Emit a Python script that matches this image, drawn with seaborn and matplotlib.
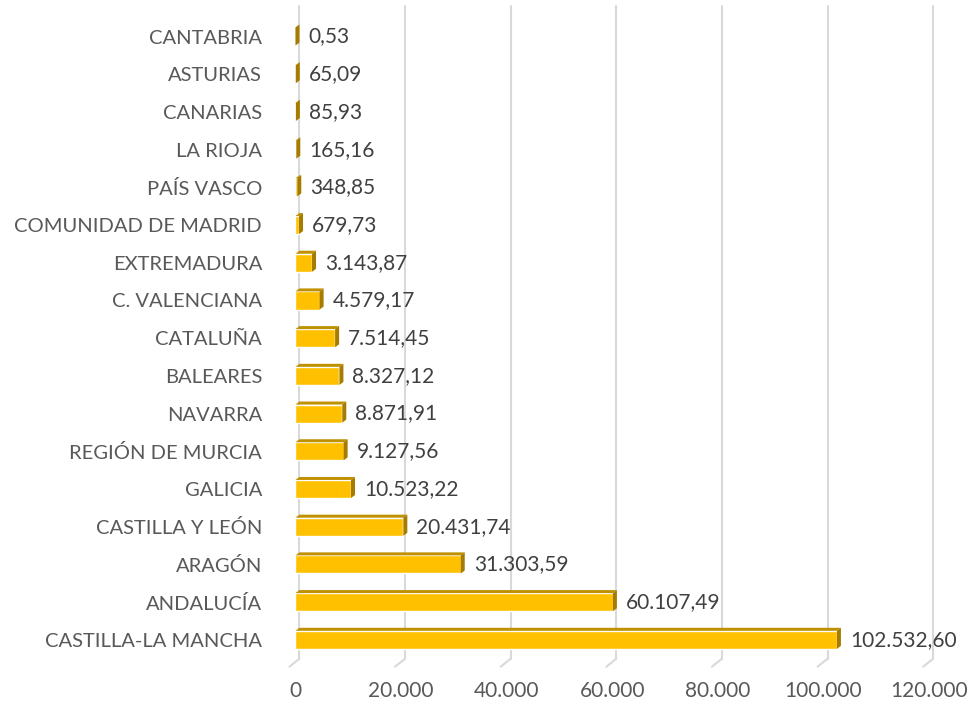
import numpy as np
import pandas as pd
import seaborn as sns
import matplotlib.pyplot as plt
import matplotlib.transforms as mtransforms
from matplotlib.patches import Polygon

# data (top to bottom as shown)
regions = ["CANTABRIA", "ASTURIAS", "CANARIAS", "LA RIOJA", "PAÍS VASCO",
           "COMUNIDAD DE MADRID", "EXTREMADURA", "C. VALENCIANA", "CATALUÑA",
           "BALEARES", "NAVARRA", "REGIÓN DE MURCIA", "GALICIA",
           "CASTILLA Y LEÓN", "ARAGÓN", "ANDALUCÍA", "CASTILLA-LA MANCHA"]
values = [0.53, 65.09, 85.93, 165.16, 348.85, 679.73, 3143.87, 4579.17,
          7514.45, 8327.12, 8871.91, 9127.56, 10523.22, 20431.74, 31303.59,
          60107.49, 102532.60]
xticks = [0, 20000, 40000, 60000, 80000, 100000, 120000]

df = pd.DataFrame({"region": regions, "value": values})

sns.set_theme(style="white")
plt.rcParams["font.family"] = ["Lato", "DejaVu Sans"]
grey = "#595959"
front = "#FFC000"
dark = "#BF9000"

ax_w, ax_h = 0.650, 0.908
fig = plt.figure(figsize=(9.75, 7.06), dpi=100)
ax = fig.add_axes([0.303, 0.067, ax_w, ax_h])

sns.barplot(data=df, x="value", y="region", orient="h", color=front,
            width=0.48, saturation=1, ax=ax, zorder=3)

ax.set_xlim(0, 120000)
ax.set_ylim(len(regions) - 0.5, -0.5)

# pseudo 3D faces: pixel offsets converted to data units
px_x = 120000 / (ax_w * 975)
px_y = len(regions) / (ax_h * 706)
dx, dy = 4 * px_x, 3 * px_y
for p in ax.patches:
    x0, y0 = p.get_x(), p.get_y()
    w, h = p.get_width(), p.get_height()
    # y axis inverted: y0 is top edge on screen
    top = Polygon([(x0, y0), (x0 + w, y0), (x0 + w + dx, y0 - dy), (x0 + dx, y0 - dy)],
                  closed=True, facecolor=dark, edgecolor="none", zorder=3)
    side = Polygon([(x0 + w, y0), (x0 + w + dx, y0 - dy), (x0 + w + dx, y0 + h - dy),
                    (x0 + w, y0 + h)],
                   closed=True, facecolor="#A67C00", edgecolor="none", zorder=3)
    ax.add_patch(top)
    ax.add_patch(side)

# value labels
for i, v in enumerate(values):
    txt = f"{v:,.2f}".replace(",", "X").replace(".", ",").replace("X", ".")
    ax.text(v + dx + 9 * px_x, i, txt, va="center", ha="left",
            fontsize=15, color="#404040", zorder=4)

# gridlines (back wall, slightly offset) and floor ticks
off = mtransforms.offset_copy(ax.transData, fig=fig, x=4, y=0, units="dots")
trans = mtransforms.blended_transform_factory(ax.transData, ax.transAxes)
for t in xticks:
    ax.plot([t, t], [-0.8, len(regions) - 0.5], color="#D9D9D9", lw=1.5,
            transform=off, zorder=1, clip_on=False)
    p0 = trans.transform((t, 0))
    p0 = (p0[0] + 4, p0[1])
    p1 = (p0[0] - 10, p0[1] - 8)
    fig.add_artist(plt.Line2D([p0[0] / fig.bbox.width, p1[0] / fig.bbox.width],
                              [p0[1] / fig.bbox.height, p1[1] / fig.bbox.height],
                              color="#D9D9D9", lw=1.5))

ax.set_xticks(xticks)
ax.set_xticklabels([f"{t:,}".replace(",", ".") for t in xticks])
ax.tick_params(axis="x", length=0, pad=16, labelsize=15, labelcolor=grey)
ax.tick_params(axis="y", length=0, pad=24, labelsize=14.5, labelcolor=grey)
ax.set_xlabel("")
ax.set_ylabel("")
sns.despine(ax=ax, left=True, bottom=True)

fig.savefig("out.png", dpi=100)
